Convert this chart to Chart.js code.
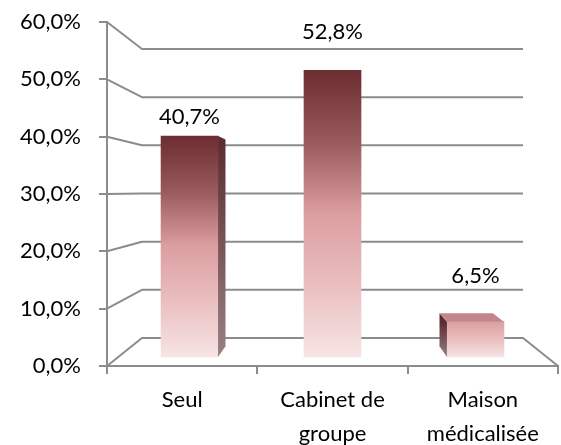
<!DOCTYPE html>
<html>
<head>
<meta charset="utf-8">
<script src="https://cdn.jsdelivr.net/npm/chart.js@4.4.0/dist/chart.umd.min.js"></script>
<style>
  html, body { margin: 0; padding: 0; background: #fff; }
</style>
</head>
<body>
<canvas id="chart" width="561" height="445"></canvas>
<script>
// Data
const categories = [['Seul'], ['Cabinet de', 'groupe'], ['Maison', 'médicalisée']];
const shares = [40.7, 52.8, 6.5];
const tickValues = [0, 10, 20, 30, 40, 50, 60];

const pct = v => v.toFixed(1).replace('.', ',') + '%';

Chart.defaults.font.family = "'Lato', sans-serif";
Chart.defaults.font.size = 22;
Chart.defaults.color = '#000';

const LINE = '#8c8c8c';

// Back wall, left wall and floor lines (3D frame)
const walls = {
  id: 'walls',
  beforeDatasetsDraw(chart, args, opts) {
    const { ctx, chartArea: a, scales } = chart;
    const yF = scales.y, yB = scales.yBack;
    const vx = (a.left + a.right) / 2;
    const bl = vx + (a.left - vx) * opts.backScale;
    const br = vx + (a.right - vx) * opts.backScale;
    ctx.save();
    ctx.strokeStyle = LINE;
    ctx.lineWidth = 2;
    ctx.lineJoin = 'round';
    tickValues.forEach(v => {
      ctx.beginPath();
      ctx.moveTo(a.left, yF.getPixelForValue(v));
      ctx.lineTo(bl, yB.getPixelForValue(v));
      ctx.lineTo(br, yB.getPixelForValue(v));
      if (v === 0) ctx.lineTo(a.right, yF.getPixelForValue(0));
      ctx.stroke();
    });
    ctx.restore();
  }
};

// Side / top faces of the columns + value labels
const boxes = {
  id: 'boxes',
  afterDatasetsDraw(chart, args, opts) {
    const { ctx, chartArea: a, scales } = chart;
    const yF = scales.y, yB = scales.yBack;
    // horizon where front and back walls meet
    const f0 = yF.getPixelForValue(0), f1 = yF.getPixelForValue(1) - f0;
    const b0 = yB.getPixelForValue(0), b1 = yB.getPixelForValue(1) - b0;
    const vy = f0 + f1 * ((b0 - f0) / (f1 - b1));
    const vx = (a.left + a.right) / 2;
    const s = opts.depth;
    const px = X => vx + (X - vx) * s;
    const py = Y => vy + (Y - vy) * s;

    const face = (pts, fill) => {
      ctx.beginPath();
      pts.forEach((p, i) => i ? ctx.lineTo(p[0], p[1]) : ctx.moveTo(p[0], p[1]));
      ctx.closePath();
      ctx.fillStyle = fill;
      ctx.fill();
    };

    const meta = chart.getDatasetMeta(0);
    ctx.save();
    meta.data.forEach((bar, i) => {
      const { x, y, base, width } = bar.getProps(['x', 'y', 'base', 'width'], true);
      if (![x, y, base, width].every(Number.isFinite)) return;
      const l = x - width / 2, r = x + width / 2;
      const g = ctx.createLinearGradient(0, y, 0, base);
      g.addColorStop(0, '#5a2a31');
      g.addColorStop(1, '#988083');
      if (r < vx - 1) face([[r, y], [px(r), py(y)], [px(r), py(base)], [r, base]], g);
      if (l > vx + 1) face([[l, y], [px(l), py(y)], [px(l), py(base)], [l, base]], g);
      if (y > vy) face([[l, y], [r, y], [px(r), py(y)], [px(l), py(y)]], '#c2868b');

      ctx.fillStyle = '#000';
      ctx.font = "22px 'Lato', sans-serif";
      ctx.textAlign = 'center';
      ctx.textBaseline = 'middle';
      ctx.fillText(pct(shares[i]), x, y - opts.lift[i]);
    });
    ctx.restore();
  }
};

function barFill(c) {
  const yb = c.chart.scales.yb;
  if (!yb || !c.parsed) return '#dc9ea0';
  const top = yb.getPixelForValue(c.parsed.y);
  const base = yb.getPixelForValue(0);
  if (!Number.isFinite(top) || !Number.isFinite(base)) return '#dc9ea0';
  const span = Math.max(base - top, 70);
  const g = c.chart.ctx.createLinearGradient(0, base - span, 0, base);
  g.addColorStop(0, '#6c2c30');
  g.addColorStop(0.25, '#985a5d');
  g.addColorStop(0.5, '#dc9ea0');
  g.addColorStop(0.75, '#eabfc0');
  g.addColorStop(1, '#f7e4e4');
  return g;
}

new Chart(document.getElementById('chart'), {
  type: 'bar',
  data: {
    labels: categories,
    datasets: [{
      data: shares.map((v, i) => ({ x: i, y: v })),
      xAxisID: 'xb',
      yAxisID: 'yb',
      backgroundColor: barFill,
      borderWidth: 0,
      barThickness: 57
    }]
  },
  options: {
    responsive: false,
    animation: false,
    layout: { padding: { top: 22, right: 3, left: 0, bottom: 0 } },
    plugins: {
      legend: { display: false },
      tooltip: { enabled: false },
      walls: { backScale: 0.845 },
      boxes: { depth: 0.935, lift: [19, 38, 46] }
    },
    scales: {
      x: {
        type: 'category',
        labels: categories,
        position: 'bottom',
        offset: true,
        grid: { offset: true, drawOnChartArea: false, tickLength: 8, color: LINE, lineWidth: 2 },
        border: { color: LINE, width: 2 },
        ticks: { padding: 9, maxRotation: 0, autoSkip: false, font: { size: 22, lineHeight: 1.55 } },
        afterFit: s => { s.height = 79; s.paddingLeft = 0; s.paddingRight = 0; }
      },
      xb: { type: 'linear', display: false, offset: false, min: -0.5775, max: 2.5775 },
      y: {
        type: 'linear',
        position: 'left',
        min: 0,
        max: 60,
        afterBuildTicks: s => { s.ticks = tickValues.map(v => ({ value: v })); },
        grid: { drawOnChartArea: false, tickLength: 8, color: LINE, lineWidth: 2 },
        border: { color: LINE, width: 2 },
        ticks: { padding: 18, callback: v => pct(v) },
        afterFit: s => { s.width = 107; s.paddingTop = 0; s.paddingBottom = 0; }
      },
      yb: { type: 'linear', display: false, min: -1.66, max: 61.69 },
      yBack: { type: 'linear', display: false, min: -5.81, max: 65.6 }
    }
  },
  plugins: [walls, boxes]
});
</script>
</body>
</html>
